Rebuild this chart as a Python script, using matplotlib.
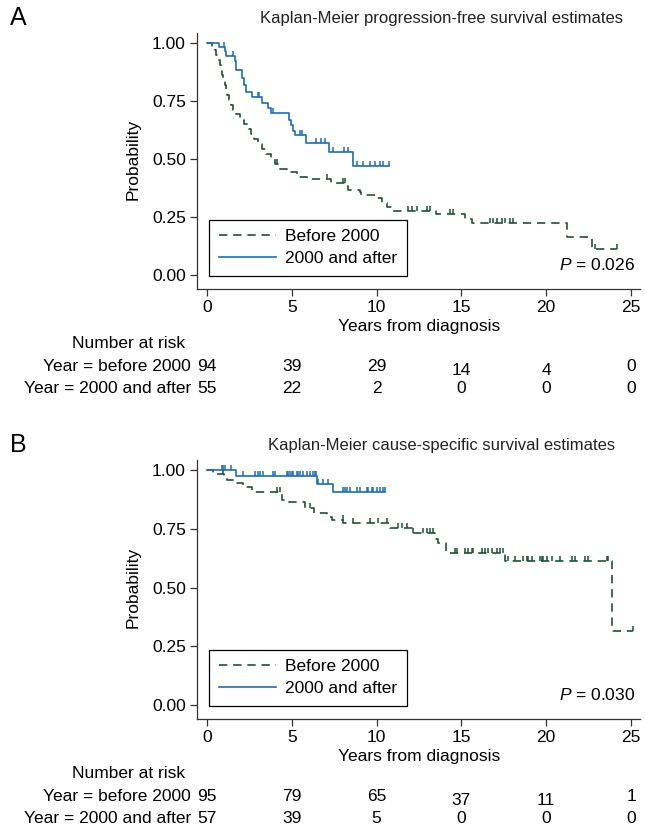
import matplotlib
matplotlib.use("Agg")
import matplotlib.pyplot as plt
import matplotlib.transforms as mtransforms
import numpy as np

plt.rcParams["font.family"] = ["Liberation Sans", "DejaVu Sans"]
plt.rcParams["mathtext.fontset"] = "custom"
plt.rcParams["mathtext.it"] = "Liberation Sans:italic"
plt.rcParams["mathtext.rm"] = "Liberation Sans"

W, H = 645, 830
BLUE = "#1a6cc2"
GREEN = "#1a5530"
AXC = "#333333"
FS = 12.5

# ---- Panel A: progression-free survival ----
a_before_t = [0.30, 0.45, 0.55, 0.65, 0.75, 0.82, 0.90, 0.97, 1.05, 1.12, 1.20, 1.30,
              1.40, 1.55, 1.70, 1.95, 2.20, 2.45, 2.60, 2.75, 3.00, 3.25, 3.50, 3.75,
              4.00, 4.20, 4.70, 5.30, 5.90, 7.30, 8.20, 8.30, 9.00, 9.10, 9.90, 10.30,
              10.60, 10.90, 13.50, 15.20, 15.60, 21.20, 22.70]
a_before_s = [0.989, 0.968, 0.947, 0.926, 0.904, 0.883, 0.862, 0.840, 0.819, 0.798, 0.777, 0.755,
              0.734, 0.713, 0.692, 0.670, 0.649, 0.628, 0.606, 0.585, 0.564, 0.543, 0.521, 0.500,
              0.479, 0.457, 0.446, 0.424, 0.413, 0.397, 0.385, 0.367, 0.356, 0.345, 0.330, 0.309,
              0.295, 0.277, 0.265, 0.243, 0.222, 0.162, 0.111]
a_before_end = 24.15
a_before_cens = [4.13, 7.06, 8.00, 8.14, 11.87, 12.07, 12.37, 12.96, 13.15, 14.30, 14.50,
                 16.69, 16.88, 17.08, 17.38, 17.57, 17.87, 18.07, 22.88, 24.15]

a_after_t = [0.71, 1.05, 1.10, 1.63, 1.71, 2.04, 2.18, 2.28, 2.63, 3.22, 3.62, 3.75,
             4.85, 4.93, 5.05, 5.19, 5.84, 7.21, 8.58]
a_after_s = [0.982, 0.964, 0.945, 0.922, 0.885, 0.849, 0.819, 0.788, 0.769, 0.743, 0.718, 0.697,
             0.668, 0.647, 0.621, 0.603, 0.570, 0.529, 0.471]
a_after_end = 10.75
a_after_cens = [1.00, 1.55, 3.03, 3.08, 3.91, 5.48, 5.58, 6.43, 6.70, 6.96, 7.41, 8.10, 8.33,
                8.86, 9.18, 9.61, 9.91, 10.20, 10.40, 10.75]

a_risk_before = [94, 39, 29, 14, 4, 0]
a_risk_after = [55, 22, 2, 0, 0, 0]
a_pvalue = "0.026"

# ---- Panel B: cause-specific survival ----
b_before_t = [0.37, 1.00, 1.20, 1.75, 2.14, 2.63, 4.40, 4.85, 5.78, 6.30, 7.06, 7.35, 8.04,
              10.80, 12.10, 13.44, 13.60, 14.10, 14.20, 17.60, 23.86]
b_before_s = [0.983, 0.972, 0.957, 0.946, 0.926, 0.905, 0.872, 0.862, 0.837, 0.816, 0.798, 0.787, 0.773,
              0.755, 0.733, 0.705, 0.688, 0.652, 0.645, 0.612, 0.316]
b_before_end = 25.14
b_before_cens = [0.92, 4.10, 4.30, 6.07, 8.00, 8.63, 9.61, 10.10, 10.60, 11.28, 11.48, 11.77,
                 12.17, 12.75, 12.95, 13.15, 13.34, 14.62, 14.72, 15.21, 15.41, 15.60, 15.70,
                 16.20, 16.39, 16.59, 16.79, 17.08, 17.28, 17.47, 17.77, 18.16, 18.65, 18.85,
                 18.95, 19.14, 19.63, 19.73, 19.83, 20.03, 20.32, 20.81, 21.50, 21.70, 22.29,
                 22.48, 23.57, 23.66, 25.14]

b_after_t = [1.71, 6.47, 7.45]
b_after_s = [0.976, 0.940, 0.908]
b_after_end = 10.5
b_after_cens = [0.87, 0.96, 1.06, 1.40, 2.14, 2.83, 3.03, 3.13, 3.32, 3.91, 4.01, 4.70, 4.80,
                4.90, 5.00, 5.09, 5.29, 5.39, 5.48, 5.68, 5.88, 6.07, 6.27, 6.37, 6.43, 6.56,
                6.86, 7.15, 8.04, 8.14, 8.24, 8.43, 8.83, 9.02, 9.41, 9.51, 9.71, 9.81, 10.0,
                10.2, 10.4, 10.5]

b_risk_before = [95, 79, 65, 37, 11, 1]
b_risk_after = [57, 39, 5, 0, 0, 0]
b_pvalue = "0.030"

risk_times = [0, 5, 10, 15, 20, 25]
row_labels = ["Year = before 2000", "Year = 2000 and after"]
legend_labels = ["Before 2000", "2000 and after"]

fig = plt.figure(figsize=(W / 100, H / 100), dpi=100)


def fy(py):
    return 1 - py / H


def km_line(ax, times, surv, end, cens, color, dashed, label, tick):
    x = np.r_[0.0, times, end]
    y = np.r_[1.0, surv, surv[-1]]
    line, = ax.step(x, y, where="post", color=color, lw=1.2, label=label)
    if dashed:
        line.set_dashes((5, 3.5))
    c = np.asarray(cens)
    s_at = y[np.searchsorted(x, c, side="right") - 1]
    ax.vlines(c, s_at, s_at + tick, color=color, lw=1.1)
    return line


def panel(letter, title, top0, y1_px, y0_px, before, after, risk_b, risk_a, pval):
    # pixel layout: x=0 at 207px, x=25 at 631px
    xs = (631 - 207) / 25
    ys = y0_px - y1_px
    left, right, top, bottom = 197, 640, y1_px - 10, y0_px + 14
    ax = fig.add_axes([left / W, fy(bottom), (right - left) / W, (bottom - top) / H])
    ax.set_xlim((left - 207) / xs, (right - 207) / xs)
    ax.set_ylim(-(bottom - y0_px) / ys, (y0_px - top) / ys)
    for s in ["top", "right"]:
        ax.spines[s].set_visible(False)
    for s in ["left", "bottom"]:
        ax.spines[s].set_color(AXC)
        ax.spines[s].set_linewidth(0.9)
    ax.set_xticks(risk_times)
    ax.set_yticks([0, 0.25, 0.5, 0.75, 1.0])
    ax.set_yticklabels(["%.2f" % v for v in [0, 0.25, 0.5, 0.75, 1.0]])
    ax.tick_params(direction="out", length=5, width=0.9, color=AXC, labelsize=FS, pad=3)
    ax.patch.set_visible(False)

    tick = 5 / ys
    l1 = km_line(ax, *before, GREEN, True, legend_labels[0], tick)
    l2 = km_line(ax, *after, BLUE, False, legend_labels[1], tick)

    leg = ax.legend([l1, l2], legend_labels, loc="lower left",
                    bbox_to_anchor=(209 / W, fy(y0_px + 1)), bbox_transform=fig.transFigure,
                    borderaxespad=0, fontsize=FS, frameon=True, fancybox=False,
                    framealpha=1, edgecolor="black", handlelength=3.3, handletextpad=0.55,
                    borderpad=0.55, labelspacing=0.4)
    leg.get_frame().set_linewidth(0.9)

    ax.text(635 / W, fy(y0_px - 10), "$P$ = " + pval, transform=fig.transFigure,
            ha="right", va="center", fontsize=FS)

    fig.text(10 / W, fy(top0), letter, fontsize=18, ha="left", va="center")
    fig.text(442 / W, fy(top0), title, fontsize=12, ha="center", va="center", color="#222222")
    fig.text(133 / W, fy((y1_px + y0_px) / 2), "Probability", rotation=90,
             ha="center", va="center", fontsize=FS)
    fig.text(419 / W, fy(y0_px + 51), "Years from diagnosis", ha="center", va="center", fontsize=FS)

    # number at risk table
    fig.text(129 / W, fy(y0_px + 68), "Number at risk", ha="center", va="center", fontsize=FS)
    tr = mtransforms.blended_transform_factory(ax.transData, fig.transFigure)
    row_y = [y0_px + 91, y0_px + 113]
    dy = [0, 0, 0, 4, 4, 0]
    for r, (lab, counts) in enumerate(zip(row_labels, [risk_b, risk_a])):
        fig.text(191 / W, fy(row_y[r]), lab, ha="right", va="center", fontsize=FS)
        for i, (t, n) in enumerate(zip(risk_times, counts)):
            off = dy[i] if r == 0 else 0
            ax.text(t, fy(row_y[r] + off), str(n), transform=tr, ha="center",
                    va="center", fontsize=FS)
    return ax


panel("A", "Kaplan-Meier progression-free survival estimates", 18, 43, 275,
      (a_before_t, a_before_s, a_before_end, a_before_cens),
      (a_after_t, a_after_s, a_after_end, a_after_cens),
      a_risk_before, a_risk_after, a_pvalue)
panel("B", "Kaplan-Meier cause-specific survival estimates", 445, 470, 705,
      (b_before_t, b_before_s, b_before_end, b_before_cens),
      (b_after_t, b_after_s, b_after_end, b_after_cens),
      b_risk_before, b_risk_after, b_pvalue)

fig.savefig("out.png", dpi=100)
